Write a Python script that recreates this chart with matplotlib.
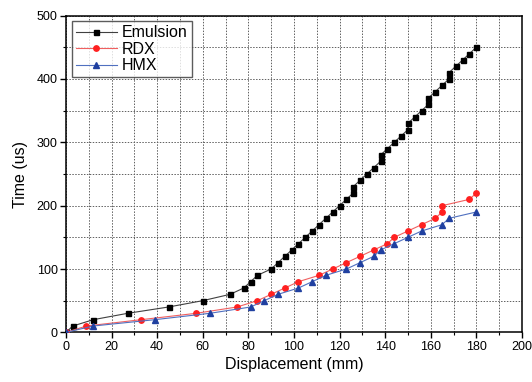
import matplotlib
matplotlib.use("Agg")
import matplotlib.pyplot as plt
from matplotlib.ticker import MultipleLocator

plt.rcParams['font.family'] = ['Liberation Sans', 'DejaVu Sans']

emul_x = [0, 3, 12, 27, 45, 60, 72, 78, 81, 84, 90, 93, 96, 99, 102, 105, 108, 111, 114, 117,
          120, 123, 126, 126, 129, 132, 135, 138, 138, 141, 144, 147, 150, 150, 153, 156,
          159, 159, 162, 165, 168, 168, 171, 174, 177, 180]
emul_y = [0, 10, 20, 30, 40, 50, 60, 70, 80, 90, 100, 110, 120, 130, 140, 150, 160, 170, 180, 190,
          200, 210, 220, 230, 240, 250, 260, 270, 280, 290, 300, 310, 320, 330, 340, 350,
          360, 370, 380, 390, 400, 410, 420, 430, 440, 450]

rdx_x = [0, 9, 33, 57, 75, 84, 90, 96, 102, 111, 117, 123, 129, 135, 141, 144, 150, 156,
         162, 165, 165, 177, 180]
rdx_y = [0, 10, 20, 30, 40, 50, 60, 70, 80, 90, 100, 110, 120, 130, 140, 150, 160, 170,
         180, 190, 200, 210, 220]

hmx_x = [0, 12, 39, 63, 81, 87, 93, 102, 108, 114, 123, 129, 135, 138, 144, 150, 156,
         165, 168, 180]
hmx_y = [0, 10, 20, 30, 40, 50, 60, 70, 80, 90, 100, 110, 120, 130, 140, 150, 160,
         170, 180, 190]

fig = plt.figure(figsize=(5.32, 3.82), dpi=100)
ax = fig.add_axes([0.124, 0.130, 0.857, 0.829])

ax.plot(emul_x, emul_y, color='#404040', lw=0.8, marker='s', ms=3.6,
        mfc='black', mec='black', label='Emulsion', zorder=3)
ax.plot(rdx_x, rdx_y, color='#f06060', lw=0.8, marker='o', ms=3.9,
        mfc='#ff2020', mec='#ff2020', label='RDX', zorder=4)
ax.plot(hmx_x, hmx_y, color='#5070c0', lw=0.8, marker='^', ms=4.4,
        mfc='#2040a0', mec='#2040a0', label='HMX', zorder=5)

ax.set_xlim(0, 200)
ax.set_ylim(0, 500)
ax.xaxis.set_major_locator(MultipleLocator(20))
ax.xaxis.set_minor_locator(MultipleLocator(10))
ax.yaxis.set_major_locator(MultipleLocator(100))
ax.yaxis.set_minor_locator(MultipleLocator(50))

ax.grid(True, which='both', linestyle=(0, (1.5, 1.5)), color='#606060', lw=0.7)
ax.set_axisbelow(True)

ax.tick_params(axis='both', which='major', direction='out', length=4, width=1,
               labelsize=9, colors='black', pad=2)
ax.tick_params(axis='both', which='minor', direction='out', length=2.5, width=0.8)
for s in ax.spines.values():
    s.set_linewidth(1.1)
    s.set_color('black')

ax.set_xlabel('Displacement (mm)', fontsize=11.5, labelpad=3)
ax.set_ylabel('Time (us)', fontsize=11.5, labelpad=6)

leg = ax.legend(loc='upper left', fontsize=11.5, frameon=True, fancybox=False,
                edgecolor='#333333', borderpad=0.25, labelspacing=0.1,
                handlelength=2.6, handletextpad=0.3, borderaxespad=0.35)
leg.get_frame().set_linewidth(1.0)

fig.savefig('out.png', dpi=100)
